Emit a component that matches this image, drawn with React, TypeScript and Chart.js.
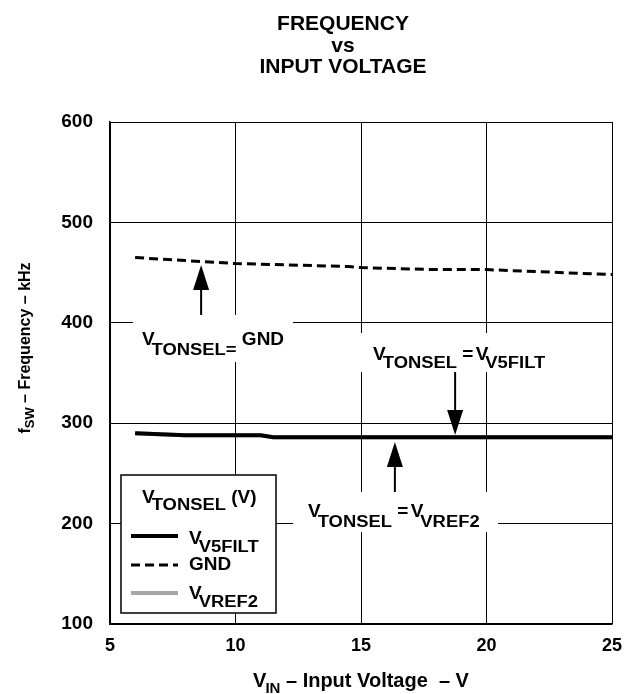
import React, { useEffect, useRef } from "react";
import { Chart, registerables } from "chart.js";

Chart.register(...registerables);

// ---- data ----
const xTicks = [5, 10, 15, 20, 25];
const yTicks = [100, 200, 300, 400, 500, 600];

const seriesNames = ["V5FILT", "GND", "VREF2"];

const v5filtX = [6, 8, 11, 11.5, 15, 20, 25];
const v5filtY = [290, 288, 288, 286, 286, 286, 286];

const gndX = [6, 8, 10, 11.5, 14.5, 15, 18, 20, 22, 25];
const gndY = [465, 462, 459, 458, 456, 455, 453, 453, 451, 448];

const vref2X = [6, 8, 11, 11.5, 15, 20, 25];
const vref2Y = [290, 288, 288, 286, 286, 286, 286];

// annotation arrows (data coordinates)
const arrowX = [8.63, 18.75, 16.35];
const arrowFrom = [407.8, 351, 231.5];
const arrowTo = [457.6, 288.2, 281.3];

const FONT = "'Liberation Sans', Arial, Helvetica, sans-serif";

type Part = { t: string; size: number; dy?: number; sx?: number; dx?: number };

const M = (t: string, size = 19): Part => ({ t, size });
const S = (t: string, dy: number, size = 16): Part => ({ t, size, dy, sx: 1.15, dx: -3 });

function partsWidth(ctx: CanvasRenderingContext2D, parts: Part[]) {
  let w = 0;
  for (const p of parts) {
    ctx.font = `bold ${p.size}px ${FONT}`;
    w += (p.dx || 0) + ctx.measureText(p.t).width * (p.sx || 1);
  }
  return w;
}

function drawRich(ctx: CanvasRenderingContext2D, x: number, y: number, parts: Part[]) {
  let cx = x;
  for (const p of parts) {
    cx += p.dx || 0;
    ctx.font = `bold ${p.size}px ${FONT}`;
    const sx = p.sx || 1;
    const w = ctx.measureText(p.t).width * sx;
    ctx.save();
    ctx.translate(cx, y + (p.dy || 0));
    ctx.scale(sx, 1);
    ctx.textAlign = "left";
    ctx.textBaseline = "alphabetic";
    ctx.fillStyle = "#000";
    ctx.fillText(p.t, 0, 0);
    ctx.restore();
    cx += w;
  }
}

function drawArrow(ctx: CanvasRenderingContext2D, x: number, yTail: number, yTip: number) {
  const dir = yTip < yTail ? -1 : 1;
  const headLen = 25;
  const half = 8;
  const base = yTip - dir * headLen;
  ctx.save();
  ctx.strokeStyle = "#000";
  ctx.fillStyle = "#000";
  ctx.lineWidth = 2;
  ctx.beginPath();
  ctx.moveTo(x, yTail);
  ctx.lineTo(x, base);
  ctx.stroke();
  ctx.beginPath();
  ctx.moveTo(x, yTip);
  ctx.lineTo(x - half, base);
  ctx.lineTo(x + half, base);
  ctx.closePath();
  ctx.fill();
  ctx.restore();
}

const decorPlugin = {
  id: "decor",
  afterDraw(chart: any) {
    const ctx: CanvasRenderingContext2D = chart.ctx;
    const xs = chart.scales.x;
    const ys = chart.scales.y;
    const ca = chart.chartArea;
    const px = (v: number) => xs.getPixelForValue(v);
    const py = (v: number) => ys.getPixelForValue(v);

    ctx.save();
    // title
    ctx.fillStyle = "#000";
    ctx.textAlign = "center";
    ctx.textBaseline = "alphabetic";
    ctx.font = `bold 21px ${FONT}`;
    ctx.fillText("FREQUENCY", 343, 30);
    ctx.fillText("vs", 343, 52);
    ctx.fillText("INPUT VOLTAGE", 343, 73);

    // x axis title
    const xt: Part[] = [M("V", 20), { t: "IN", size: 15, dy: 6, dx: -1 }, M(" \u2013 Input Voltage  \u2013 V", 20)];
    const xw = partsWidth(ctx, xt);
    drawRich(ctx, (ca.left + ca.right) / 2 - xw / 2, 687, xt);

    // y axis title
    const yt: Part[] = [M("f", 16), { t: "SW", size: 13, dy: 4 }, M(" \u2013 Frequency \u2013 kHz", 16)];
    const yw = partsWidth(ctx, yt);
    ctx.save();
    ctx.translate(30, 348);
    ctx.rotate(-Math.PI / 2);
    drawRich(ctx, -yw / 2, 0, yt);
    ctx.restore();

    // white label boxes
    ctx.fillStyle = "#fff";
    const box = (x1: number, x2: number, y1: number, y2: number) => {
      const a = px(x1), b = px(x2), c = py(y1), d = py(y2);
      ctx.fillRect(Math.min(a, b), Math.min(c, d), Math.abs(b - a), Math.abs(d - c));
    };
    box(5.92, 12.29, 407.8, 361);
    box(14.76, 22.73, 389.8, 351);
    box(12.29, 20.46, 231.5, 191.6);

    // labels
    drawRich(ctx, px(6.27), py(377.9), [M("V"), S("TONSEL=", 10), M(" GND")]);
    drawRich(ctx, px(15.48), py(362.9), [M("V"), S("TONSEL", 8), M(" = "), S("", 0), M("V"), S("V5FILT", 8)]);
    drawRich(ctx, px(12.89), py(206.6), [M("V"), S("TONSEL", 10), M(" = "), S("", 0), M("V"), S("VREF2", 10)]);

    // arrows
    for (let i = 0; i < arrowX.length; i++) {
      drawArrow(ctx, px(arrowX[i]), py(arrowFrom[i]), py(arrowTo[i]));
    }

    // legend box
    const lx = ca.left + 11;
    const lw = 155;
    const lh = 138;
    const ly = ca.bottom - 11 - lh;
    ctx.fillStyle = "#fff";
    ctx.fillRect(lx, ly, lw, lh);
    ctx.strokeStyle = "#000";
    ctx.lineWidth = 1.5;
    ctx.strokeRect(lx, ly, lw, lh);

    drawRich(ctx, lx + 21, ly + 28, [M("V"), S("TONSEL", 7), M(" (V)")]);

    const ds = chart.data.datasets;
    const rowsY = [61, 90, 118];
    const labels: Part[][] = [
      [M("V"), S(seriesNames[0], 8)],
      [M(seriesNames[1])],
      [M("V"), S(seriesNames[2], 8)],
    ];
    const textDy = [8, 5, 6];
    for (let i = 0; i < 3; i++) {
      const d = ds[i];
      const yy = ly + rowsY[i];
      ctx.save();
      ctx.strokeStyle = d.borderColor;
      ctx.lineWidth = d.borderWidth;
      ctx.setLineDash(d.borderDash || []);
      ctx.beginPath();
      ctx.moveTo(lx + 10, yy);
      ctx.lineTo(lx + 57, yy);
      ctx.stroke();
      ctx.restore();
      drawRich(ctx, lx + 68, yy + textDy[i], labels[i]);
    }
    ctx.restore();
  },
};

export default function App() {
  const ref = useRef<HTMLCanvasElement>(null);

  useEffect(() => {
    if (!ref.current) return;
    const toPts = (xs: number[], ys: number[]) => xs.map((x, i) => ({ x, y: ys[i] }));
    const chart = new Chart(ref.current, {
      type: "line",
      data: {
        datasets: [
          {
            label: seriesNames[0],
            data: toPts(v5filtX, v5filtY),
            borderColor: "#000",
            borderWidth: 4,
            pointRadius: 0,
            tension: 0,
            fill: false,
          },
          {
            label: seriesNames[1],
            data: toPts(gndX, gndY),
            borderColor: "#000",
            borderWidth: 3,
            borderDash: [9, 5],
            pointRadius: 0,
            tension: 0,
            fill: false,
          },
          {
            label: seriesNames[2],
            data: toPts(vref2X, vref2Y),
            borderColor: "#a6a6a6",
            borderWidth: 4,
            pointRadius: 0,
            tension: 0,
            fill: false,
          },
        ],
      },
      options: {
        animation: false,
        responsive: false,
        devicePixelRatio: 1,
        layout: { padding: { top: 122, right: 13, left: 0, bottom: 0 } },
        plugins: {
          legend: { display: false },
          title: { display: false },
          tooltip: { enabled: false },
        },
        scales: {
          x: {
            type: "linear",
            min: xTicks[0],
            max: xTicks[xTicks.length - 1],
            afterBuildTicks: (axis: any) => {
              axis.ticks = xTicks.map((v) => ({ value: v }));
            },
            afterFit: (axis: any) => {
              axis.height = 70;
              axis.paddingLeft = 0;
              axis.paddingRight = 0;
            },
            grid: { color: "#000", lineWidth: 1, drawTicks: false },
            border: { color: "#000", width: 1.5 },
            ticks: {
              color: "#000",
              padding: 11,
              font: { family: FONT, size: 18, weight: "bold" },
            },
          },
          y: {
            type: "linear",
            min: yTicks[0],
            max: yTicks[yTicks.length - 1],
            afterBuildTicks: (axis: any) => {
              axis.ticks = yTicks.map((v) => ({ value: v }));
            },
            afterFit: (axis: any) => {
              axis.width = 110;
              axis.paddingTop = 0;
              axis.paddingBottom = 0;
            },
            grid: { color: "#000", lineWidth: 1, drawTicks: false },
            border: { color: "#000", width: 1.5 },
            ticks: {
              color: "#000",
              padding: 17,
              font: { family: FONT, size: 19, weight: "bold" },
            },
          },
        },
      },
      plugins: [decorPlugin],
    } as any);
    return () => chart.destroy();
  }, []);

  return (
    <div style={{ position: "absolute", left: 0, top: 0, width: 625, height: 694 }}>
      <canvas ref={ref} width={625} height={694} style={{ display: "block" }} />
    </div>
  );
}
